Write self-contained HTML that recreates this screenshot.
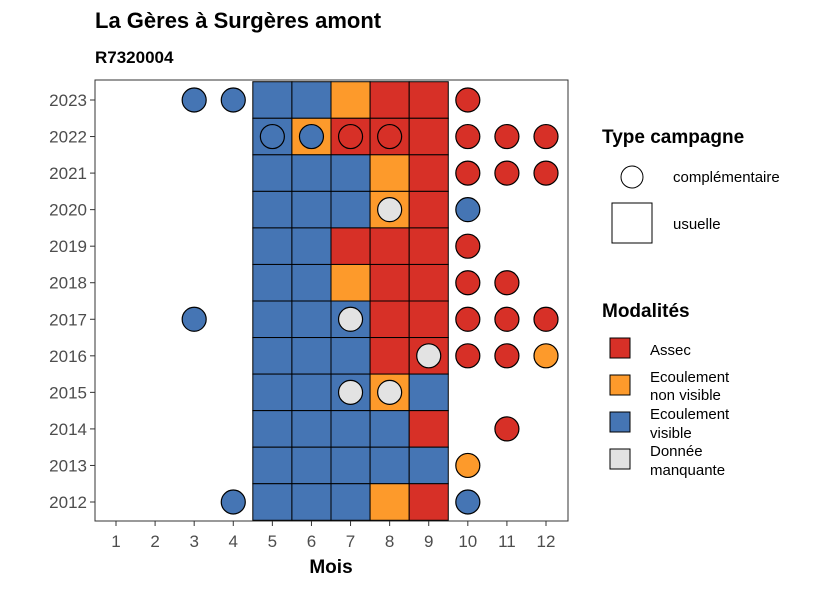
<!DOCTYPE html>
<html><head><meta charset="utf-8"><style>
body{margin:0;background:#fff;}
svg{display:block;font-family:"Liberation Sans",sans-serif;}
</style></head><body>
<svg id="c" width="826" height="590" xmlns="http://www.w3.org/2000/svg">
<text x="95" y="28" font-size="22" font-weight="bold">La Gères à Surgères amont</text>
<text x="95" y="63" font-size="17" font-weight="bold">R7320004</text>
<rect x="95" y="80" width="473" height="441" fill="#fff" stroke="#333" stroke-width="1"/>
<g id="tiles"></g><g id="pts"></g><g id="axes"></g>
<text x="331" y="573" font-size="19" font-weight="bold" text-anchor="middle">Mois</text>
<g>
<text x="602" y="143" font-size="19" font-weight="bold">Type campagne</text>
<circle cx="632" cy="177" r="11" fill="#fff" stroke="#000"/>
<text x="673" y="182" font-size="15">complémentaire</text>
<rect x="612" y="203" width="40" height="40" fill="#fff" stroke="#000"/>
<text x="673" y="229" font-size="15">usuelle</text>
</g>
<g>
<text x="602" y="317" font-size="19" font-weight="bold">Modalités</text>
<rect x="610" y="338" width="20" height="20" fill="#D73027" stroke="#000"/>
<text x="650" y="355" font-size="15">Assec</text>
<rect x="610" y="375" width="20" height="20" fill="#FD9A2B" stroke="#000"/>
<text x="650" y="382" font-size="15">Ecoulement</text><text x="650" y="400" font-size="15">non visible</text>
<rect x="610" y="412" width="20" height="20" fill="#4575B4" stroke="#000"/>
<text x="650" y="419" font-size="15">Ecoulement</text><text x="650" y="438" font-size="15">visible</text>
<rect x="610" y="449" width="20" height="20" fill="#E3E3E3" stroke="#000"/>
<text x="650" y="456" font-size="15">Donnée</text><text x="650" y="475" font-size="15">manquante</text>
</g>
</svg>
<script>
const years=[2023,2022,2021,2020,2019,2018,2017,2016,2015,2014,2013,2012];
const months=[1,2,3,4,5,6,7,8,9,10,11,12];
const tileMonths=[5,6,7,8,9];
const tileValues=[
"BBORR","BORRR","BBBOR","BBBOR","BBRRR","BBORR","BBBRR","BBBRR","BBBOB","BBBBR","BBBBB","BBBOR"];
const pointYears=[2023,2023,2023,2022,2022,2022,2022,2022,2022,2022,2021,2021,2021,2020,2020,2019,2018,2018,2017,2017,2017,2017,2017,2016,2016,2016,2016,2015,2015,2014,2013,2012,2012];
const pointMonths=[3,4,10,5,6,7,8,10,11,12,10,11,12,8,10,10,10,11,3,7,10,11,12,9,10,11,12,7,8,11,10,4,10];
const pointValues="BBRBBRRRRRRRRGBRRRBGRRRGRROGGROBB";
const col={R:"#D73027",O:"#FD9A2B",B:"#4575B4",G:"#E3E3E3"};
const NS="http://www.w3.org/2000/svg";
const xS=m=>116+(m-1)*(546-116)/11;
const yS=y=>502-(y-2012)*(502-100)/11;
const dx=(546-116)/11, dy=(502-100)/11;
function mk(t,a,p){const e=document.createElementNS(NS,t);for(const k in a)e.setAttribute(k,a[k]);p.appendChild(e);return e;}
const tg=document.getElementById('tiles');
years.forEach((yr,i)=>tileMonths.forEach((m,j)=>{
 const r=mk('rect',{x:xS(m)-dx/2,y:yS(yr)-dy/2,width:dx,height:dy,fill:col[tileValues[i][j]],stroke:"#000","stroke-width":1},tg);
 
 
}));
const pg=document.getElementById('pts');
pointYears.forEach((yr,i)=>{
 const c=mk('circle',{cx:xS(pointMonths[i]),cy:yS(yr),r:12,fill:col[pointValues[i]],stroke:"#000","stroke-width":1.2},pg);
 
 
});
const ag=document.getElementById('axes');
years.forEach(yr=>{
 mk('line',{x1:90,x2:95,y1:yS(yr),y2:yS(yr),stroke:"#333"},ag);
 const t=mk('text',{x:87,y:yS(yr)+6,"font-size":17,"text-anchor":"end",fill:"#4d4d4d"},ag);t.textContent=yr;
 
 
});
months.forEach(m=>{
 mk('line',{x1:xS(m),x2:xS(m),y1:521,y2:526,stroke:"#333"},ag);
 const t=mk('text',{x:xS(m),y:547,"font-size":17,"text-anchor":"middle",fill:"#4d4d4d"},ag);t.textContent=m;
 
 
});
</script>
</body></html>
